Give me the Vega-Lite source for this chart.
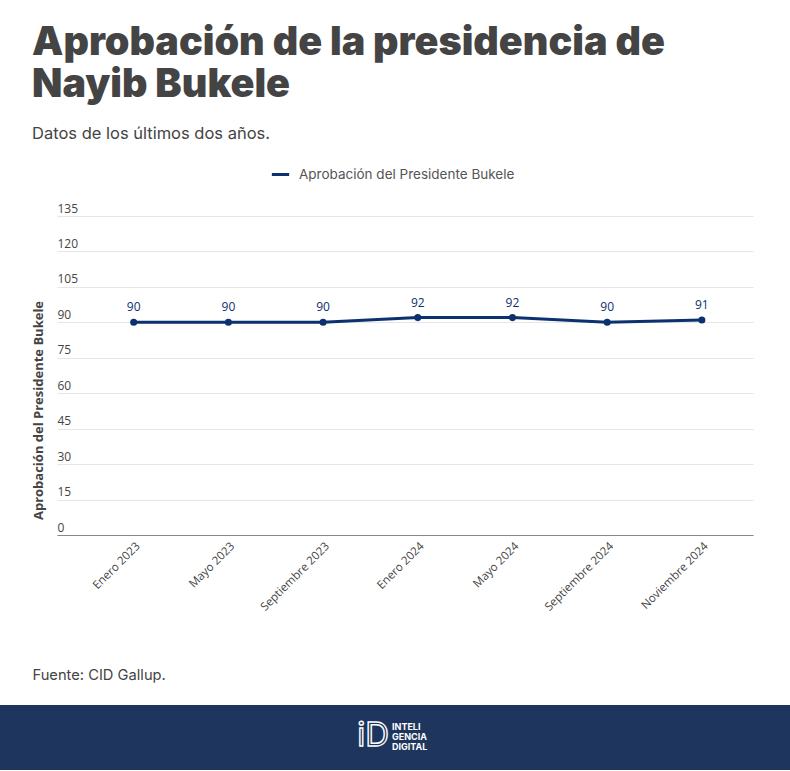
{
  "$schema": "https://vega.github.io/schema/vega-lite/v6.json",
  "padding": {"left": 0, "right": 0, "top": 23, "bottom": 0},
  "background": "white",
  "spacing": 489,
  "bounds": "flush",
  "title": {
    "text": ["Aprobación de la presidencia de", "Nayib Bukele"],
    "subtitle": "Datos de los últimos dos años.",
    "anchor": "start",
    "dx": 32,
    "font": "Inter",
    "fontWeight": 900,
    "fontSize": 39.5,
    "lineHeight": 42,
    "color": "#444444",
    "subtitleFont": "Inter",
    "subtitleFontSize": 16.5,
    "subtitleColor": "#444444",
    "subtitlePadding": 20,
    "offset": 21
  },
  "datasets": {
    "aprob": [
      {"mes": "Enero 2023", "valor": 90, "serie": "Aprobación del Presidente Bukele"},
      {"mes": "Mayo 2023", "valor": 90, "serie": "Aprobación del Presidente Bukele"},
      {"mes": "Septiembre 2023", "valor": 90, "serie": "Aprobación del Presidente Bukele"},
      {"mes": "Enero 2024", "valor": 92, "serie": "Aprobación del Presidente Bukele"},
      {"mes": "Mayo 2024", "valor": 92, "serie": "Aprobación del Presidente Bukele"},
      {"mes": "Septiembre 2024", "valor": 90, "serie": "Aprobación del Presidente Bukele"},
      {"mes": "Noviembre 2024", "valor": 91, "serie": "Aprobación del Presidente Bukele"}
    ],
    "logo": [{"t": "INTELI\nGENCIA\nDIGITAL", "icon": "iD"}]
  },
  "vconcat": [
    {
      "bounds": "flush",
      "spacing": 0,
      "hconcat": [
        {
          "width": 57,
          "height": 319,
          "data": {"values": []},
          "mark": "point"
        },
        {
          "width": 696,
          "height": 319,
          "data": {"name": "aprob"},
          "encoding": {
            "x": {
              "field": "mes",
              "type": "ordinal",
              "sort": null,
              "scale": {"type": "point", "padding": 0.675, "align": 0.6},
              "axis": {
                "title": "Fuente: CID Gallup.",
                "titleFont": "Inter",
                "titleFontSize": 14.7,
                "titleFontWeight": "normal",
                "titleColor": "#444444",
                "titleAnchor": "start",
                "titleAlign": "left",
                "titleBaseline": "middle",
                "titleX": -25,
                "titleY": 140,
                "labelAngle": -45,
                "labelFont": "Open Sans",
                "labelFontSize": 11.5,
                "labelColor": "#444444",
                "labelPadding": 5,
                "ticks": false,
                "tickSize": 0,
                "domainColor": "#888888",
                "domainWidth": 1,
                "grid": false
              }
            },
            "y": {
              "field": "valor",
              "type": "quantitative",
              "scale": {"domain": [0, 135], "nice": false, "zero": true},
              "axis": {
                "values": [0, 15, 30, 45, 60, 75, 90, 105, 120, 135],
                "title": "Aprobación del Presidente Bukele",
                "titleFont": "Open Sans",
                "titleFontSize": 13,
                "titleFontWeight": "bold",
                "titleColor": "#444444",
                "titleAngle": -90,
                "titleAlign": "center",
                "titleBaseline": "middle",
                "titleX": -19,
                "titleY": 194,
                "labelAlign": "left",
                "labelBaseline": "bottom",
                "labelPadding": 0,
                "labelOffset": -1,
                "labelFont": "Open Sans",
                "labelFontSize": 12,
                "labelColor": "#444444",
                "ticks": false,
                "tickSize": 0,
                "domain": false,
                "grid": true,
                "gridColor": "#e6e6e6",
                "gridWidth": 1
              }
            },
            "color": {
              "field": "serie",
              "type": "nominal",
              "scale": {"range": ["#0b316e"]},
              "legend": {
                "title": null,
                "orient": "none",
                "legendX": 270,
                "legendY": -52,
                "symbolType": "stroke",
                "symbolSize": 300,
                "symbolStrokeWidth": 3,
                "labelFont": "Inter",
                "labelFontSize": 13.5,
                "labelColor": "#555555",
                "labelOffset": 8,
                "labelLimit": 400
              }
            }
          },
          "layer": [
            {"mark": {"type": "line", "strokeWidth": 3}},
            {"mark": {"type": "point", "filled": true, "size": 50, "opacity": 1}},
            {
              "mark": {"type": "text", "dy": -15, "font": "Open Sans", "fontSize": 12},
              "encoding": {"text": {"field": "valor", "type": "quantitative"}}
            }
          ]
        }
      ]
    },
    {
      "width": 790,
      "height": 65,
      "view": {"fill": "#1e365e", "stroke": null},
      "data": {"name": "logo"},
      "layer": [
        {
          "mark": {"type": "text", "align": "right", "baseline": "middle", "dx": -6, "dy": -2, "font": "Inter", "fontSize": 33, "fontWeight": 400, "fill": "#1e365e", "stroke": "white", "strokeWidth": 1.4},
          "encoding": {"text": {"field": "icon"}}
        },
        {
          "mark": {"type": "text", "align": "left", "baseline": "middle", "dx": -3, "dy": -11, "lineBreak": "\n", "lineHeight": 10, "font": "Inter", "fontSize": 9, "fontWeight": "bold", "letterSpacing": 0.6, "color": "white"},
          "encoding": {"text": {"field": "t"}}
        }
      ]
    }
  ],
  "config": {"view": {"stroke": null}}
}
